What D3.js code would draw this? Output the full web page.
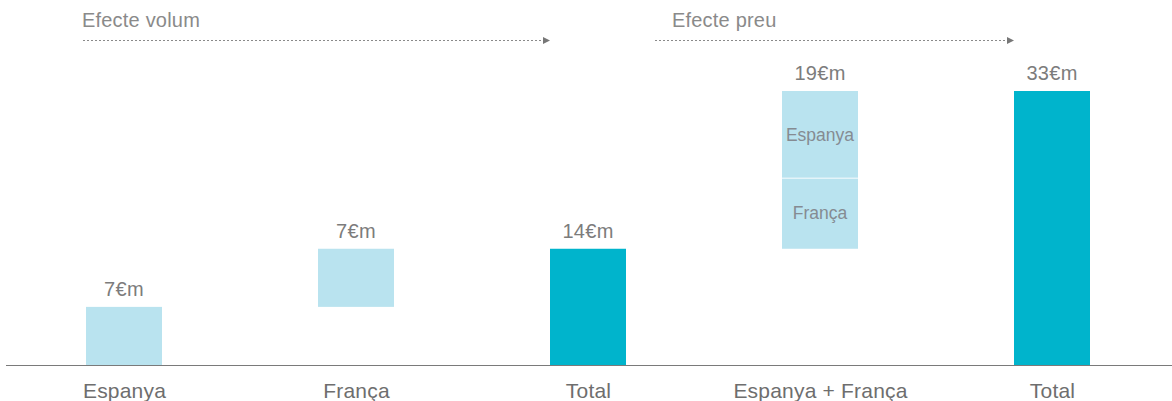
<!DOCTYPE html>
<html>
<head>
<meta charset="utf-8">
<script src="https://cdn.jsdelivr.net/npm/d3@7"></script>
<style>
  html, body { margin: 0; padding: 0; background: #fff; }
  svg { display: block; font-family: "Helvetica Neue", Helvetica, "Liberation Sans", Arial, sans-serif; }
</style>
</head>
<body>
<svg id="chart" width="1172" height="401"></svg>
<script>
// ---- data ----
const categories = ["Espanya", "França", "Total", "Espanya + França", "Total"];
const barStart   = [0, 7, 0, null, 0];
const barEnd     = [7, 14, 14, null, 33];
const barKind    = ["light", "light", "dark", null, "dark"];
const valueLabels = ["7€m", "7€m", "14€m", "19€m", "33€m"];
// stacked price-effect bar (index 3)
const stackLabels = ["França", "Espanya"];
const stackValues = [8.5, 10.5];
const stackBase = 14;
// header groups
const groupLabels = ["Efecte volum", "Efecte preu"];
const groupFrom = [0, 3];   // category index where the arrow starts
const groupTo   = [2, 4];   // category index where the arrow ends

const W = 1172, H = 401;
const colors = { light: "#B9E3EF", dark: "#00B4CC" };
const barW = 76;

const svg = d3.select("#chart");
const idx = d3.range(categories.length);

const x = d3.scalePoint().domain(idx).range([8, 1168]).padding(0.5);
const y = d3.scaleLinear().domain([0, 33]).range([365, 91]);

// simple bars
const simple = idx.filter(i => barStart[i] !== null);
svg.append("g").selectAll("rect").data(simple).join("rect")
  .attr("x", i => x(i) - barW / 2)
  .attr("width", barW)
  .attr("y", i => y(barEnd[i]))
  .attr("height", i => y(barStart[i]) - y(barEnd[i]))
  .attr("fill", i => colors[barKind[i]]);

// stacked bar
let acc = stackBase;
const stackData = stackValues.map((v, k) => {
  const d = { label: stackLabels[k], y0: acc, y1: acc + v };
  acc += v;
  return d;
});
const gs = svg.append("g");
gs.selectAll("rect").data(stackData).join("rect")
  .attr("x", x(3) - barW / 2)
  .attr("width", barW)
  .attr("y", d => y(d.y1))
  .attr("height", d => y(d.y0) - y(d.y1))
  .attr("fill", colors.light);
// white separator
gs.append("line")
  .attr("x1", x(3) - barW / 2).attr("x2", x(3) + barW / 2)
  .attr("y1", y(stackData[0].y1)).attr("y2", y(stackData[0].y1))
  .attr("stroke", "#e4f4f9").attr("stroke-width", 1.5);
gs.selectAll("text").data(stackData).join("text")
  .attr("x", x(3))
  .attr("y", d => (y(d.y0) + y(d.y1)) / 2 + 6)
  .attr("text-anchor", "middle")
  .attr("font-size", 17.5)
  .attr("fill", "#858b92")
  .text(d => d.label);

// value labels
const topVal = i => barEnd[i] !== null ? barEnd[i] : stackBase + d3.sum(stackValues);
svg.append("g").selectAll("text").data(idx).join("text")
  .attr("x", i => x(i))
  .attr("y", i => y(topVal(i)) - 11)
  .attr("text-anchor", "middle")
  .attr("font-size", 20)
  .attr("letter-spacing", 0.3)
  .attr("fill", "#7c7c7c")
  .text(i => valueLabels[i]);

// baseline axis
const axis = d3.axisBottom(x).tickSize(0).tickFormat(i => categories[i]);
const ax = svg.append("g").attr("transform", "translate(0,365)").call(axis);
ax.select(".domain").attr("d", "M6,0.5H1172").attr("stroke", "#7a7a7a").attr("stroke-width", 1.2);
ax.selectAll(".tick text")
  .attr("y", 33).attr("dy", 0)
  .attr("font-size", 21)
  .attr("letter-spacing", 0.2)
  .attr("font-family", "\"Helvetica Neue\", Helvetica, \"Liberation Sans\", Arial, sans-serif")
  .attr("fill", "#6e6e6e");

// header groups with dotted arrows
const arrowStartOffset = [-41, -165];   // px from the starting category centre
const textOffset = [-1, 17];
const gh = svg.append("g");
groupLabels.forEach((lab, k) => {
  const xs = x(groupFrom[k]) + arrowStartOffset[k];
  const xe = x(groupTo[k]) - barW / 2;
  gh.append("text")
    .attr("x", xs + textOffset[k])
    .attr("y", 27)
    .attr("font-size", 20)
    .attr("letter-spacing", 0.2)
    .attr("fill", "#8a8a8a")
    .text(lab);
  gh.append("line")
    .attr("x1", xs).attr("x2", xe - 6)
    .attr("y1", 40.5).attr("y2", 40.5)
    .attr("stroke", "#8a8a8a").attr("stroke-width", 1)
    .attr("stroke-dasharray", "2,2");
  gh.append("path")
    .attr("d", `M${xe - 7},37 L${xe},40.5 L${xe - 7},44 Z`)
    .attr("fill", "#777");
});
</script>
</body>
</html>
